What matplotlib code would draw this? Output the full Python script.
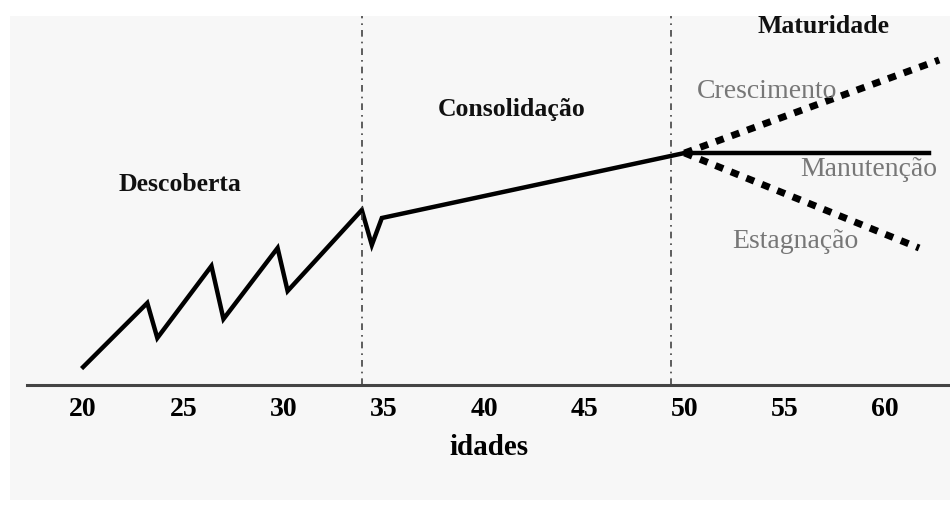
import matplotlib.pyplot as plt
from matplotlib.patches import Rectangle

# trajetória principal (idade, nível)
idade = [20, 23.2, 23.7, 26.4, 27.0, 29.7, 30.2, 33.9, 34.4, 34.9, 50.0]
nivel = [18, 82, 47, 119, 66, 137, 94, 175, 140, 167, 232]

# cenários da maturidade
cen_idade = [50.0, 62.2]
manutencao = [232, 232]
cresc_idade = [50.0, 62.7]
crescimento = [232, 325]
estag_idade = [50.0, 61.7]
estagnacao = [232, 137]

divisoes = [33.9, 49.3]
ticks = [20, 25, 30, 35, 40, 45, 50, 55, 60]

fonte = 'Liberation Serif'

fig = plt.figure(figsize=(9.5, 5.07), dpi=100, facecolor='white')
fig.patches.append(Rectangle((10 / 950, 0.014), 940 / 950, 1 - 16 / 507 - 0.014,
                             transform=fig.transFigure, facecolor='#f7f7f7',
                             edgecolor='none', zorder=-10))
ax = fig.add_axes([27 / 950, 1 - 385 / 507, 923 / 950, 369 / 507])
ax.set_facecolor('none')

ax.plot(idade, nivel, color='black', lw=3.2, solid_joinstyle='miter')
ax.plot(cen_idade, manutencao, color='black', lw=3.2)
ax.plot(cresc_idade, crescimento, color='black', lw=5, linestyle=(0, (1.2, 1.2)))
ax.plot(estag_idade, estagnacao, color='black', lw=5, linestyle=(0, (1.2, 1.2)))

for d in divisoes:
    ax.axvline(d, color='#444444', lw=1.2, linestyle=(0, (4, 3, 1, 3)))

ax.set_xlim(17.2, 63.24)
ax.set_ylim(0, 369)
ax.set_xticks(ticks)
ax.set_xticklabels([str(t) for t in ticks], fontfamily=fonte, fontweight='bold', fontsize=20)
ax.tick_params(axis='x', length=0, pad=8.5)
ax.set_yticks([])
for s in ['top', 'left', 'right']:
    ax.spines[s].set_visible(False)
ax.spines['bottom'].set_color('#444444')
ax.spines['bottom'].set_linewidth(2.2)
ax.set_xlabel('idades', fontfamily=fonte, fontweight='bold', fontsize=21, labelpad=9)

fases = ['Descoberta', 'Consolidação', 'Maturidade']
fases_pos = [(24.85, 200), (41.35, 275), (56.95, 358)]
for txt, (x, y) in zip(fases, fases_pos):
    ax.text(x, y, txt, ha='center', va='center', fontfamily=fonte,
            fontweight='bold', fontsize=18.5, color='#111111')

cenarios = ['Crescimento', 'Manutenção', 'Estagnação']
cen_pos = [(54.1, 293), (59.2, 215), (55.5, 143)]
for txt, (x, y) in zip(cenarios, cen_pos):
    ax.text(x, y, txt, ha='center', va='center', fontfamily=fonte,
            fontsize=20, color='#777777')

fig.savefig('out.png', dpi=100, facecolor='white')
